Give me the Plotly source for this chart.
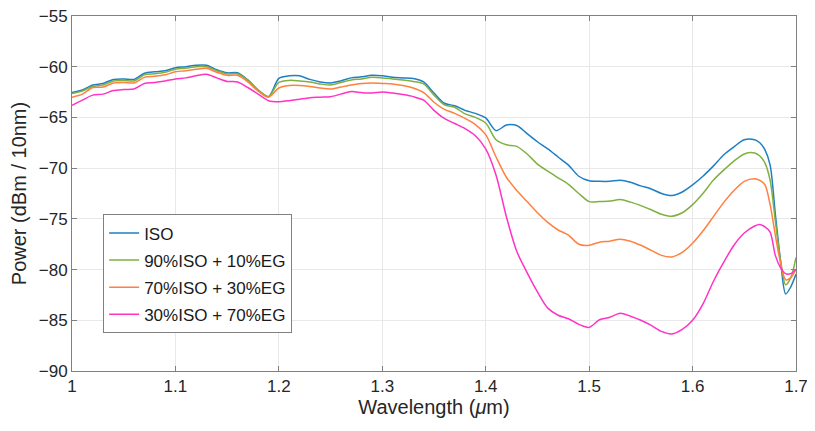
import plotly.graph_objects as go

wavelength = [1.00, 1.01, 1.02, 1.03, 1.04, 1.05, 1.06, 1.07, 1.08, 1.09,
              1.10, 1.11, 1.12, 1.13, 1.14, 1.15, 1.16, 1.17, 1.18, 1.19,
              1.20, 1.21, 1.22, 1.23, 1.24, 1.25, 1.26, 1.27, 1.28, 1.29,
              1.30, 1.31, 1.32, 1.33, 1.34, 1.35, 1.36, 1.37, 1.38, 1.39,
              1.40, 1.41, 1.42, 1.43, 1.44, 1.45, 1.46, 1.47, 1.48, 1.49,
              1.50, 1.51, 1.52, 1.53, 1.54, 1.55, 1.56, 1.57, 1.58, 1.59,
              1.60, 1.61, 1.62, 1.63, 1.64, 1.65, 1.66, 1.665, 1.67, 1.675,
              1.68, 1.685, 1.69, 1.695, 1.70]

iso = [-62.55, -62.3, -61.8, -61.65, -61.25, -61.2, -61.25, -60.65, -60.5, -60.4,
       -60.1, -60.0, -59.85, -59.85, -60.3, -60.6, -60.6, -61.3, -62.3, -62.95,
       -61.15, -60.9, -60.9, -61.25, -61.5, -61.6, -61.4, -61.1, -61.0, -60.85,
       -60.9, -61.05, -61.1, -61.15, -61.5, -62.6, -63.6, -63.85, -64.3, -64.6,
       -65.05, -66.3, -65.75, -65.8, -66.6, -67.4, -68.1, -68.9, -69.7, -70.8,
       -71.25, -71.3, -71.3, -71.2, -71.4, -71.75, -72.05, -72.5, -72.7, -72.35,
       -71.65, -70.8, -69.8, -68.7, -67.9, -67.2, -67.2, -67.5, -68.2, -69.7,
       -74.5, -79.1, -82.4, -81.7, -80.45]

iso90 = [-62.65, -62.4, -61.95, -61.8, -61.4, -61.35, -61.4, -60.8, -60.7, -60.55,
         -60.25, -60.15, -60.0, -60.0, -60.4, -60.7, -60.7, -61.35, -62.3, -62.95,
         -61.55, -61.35, -61.4, -61.5, -61.7, -61.8, -61.55, -61.3, -61.2, -61.05,
         -61.1, -61.2, -61.3, -61.45, -61.7, -62.8, -63.75, -64.0, -64.65, -65.0,
         -65.55, -67.2, -67.7, -67.85, -68.6, -69.6, -70.3, -70.95, -71.6, -72.5,
         -73.3, -73.3, -73.25, -73.1, -73.35, -73.7, -74.1, -74.55, -74.75, -74.4,
         -73.6, -72.5, -71.2, -70.2, -69.3, -68.6, -68.5, -68.8, -69.5, -71.2,
         -75.2, -79.1, -81.5, -80.8, -78.8]

iso70 = [-63.0, -62.7, -62.05, -62.0, -61.6, -61.55, -61.6, -61.05, -60.95, -60.8,
         -60.5, -60.4, -60.25, -60.15, -60.55, -60.85, -60.85, -61.5, -62.4, -63.0,
         -62.1, -61.85, -61.85, -61.95, -62.1, -62.2, -62.0, -61.8, -61.65, -61.6,
         -61.65, -61.7, -61.85, -62.1, -62.55, -63.5, -64.2, -64.6, -65.1, -65.7,
         -66.7, -68.9, -70.9, -72.2, -73.3, -74.4, -75.35, -76.1, -76.6, -77.5,
         -77.6, -77.3, -77.2, -77.0, -77.2, -77.6, -78.1, -78.6, -78.75, -78.3,
         -77.4, -76.2, -74.8, -73.4, -72.2, -71.3, -71.05, -71.2, -71.65, -73.6,
         -76.6, -79.3, -81.0, -80.8, -79.96]

iso30 = [-63.8, -63.3, -62.8, -62.7, -62.35, -62.25, -62.2, -61.65, -61.55, -61.4,
         -61.2, -61.1, -60.9, -60.75, -61.1, -61.45, -61.5, -62.05, -62.7, -63.35,
         -63.45, -63.35, -63.2, -63.05, -63.0, -62.95, -62.7, -62.45, -62.55, -62.6,
         -62.5, -62.6, -62.75, -62.95, -63.3, -64.3, -65.1, -65.6, -66.1, -66.8,
         -68.1, -70.7, -74.8, -78.2, -80.3, -82.2, -83.8, -84.5, -84.85, -85.4,
         -85.7, -84.95, -84.7, -84.3, -84.6, -85.0, -85.5, -86.1, -86.35, -85.9,
         -85.0, -83.4, -81.2, -79.3, -77.6, -76.4, -75.7, -75.55, -75.8, -76.3,
         -78.6, -79.8, -80.4, -80.4, -80.0]

series_names = ["ISO", "90%ISO + 10%EG", "70%ISO + 30%EG", "30%ISO + 70%EG"]
series_values = [iso, iso90, iso70, iso30]
colors = ["#1f7fc4", "#7fb040", "#ff8040", "#ff33c4"]

x_ticks = [1, 1.1, 1.2, 1.3, 1.4, 1.5, 1.6, 1.7]
x_tick_labels = ["1", "1.1", "1.2", "1.3", "1.4", "1.5", "1.6", "1.7"]
y_ticks = [-90, -85, -80, -75, -70, -65, -60, -55]

fig = go.Figure()
for i, (name, vals, col) in enumerate(zip(series_names, series_values, colors)):
    fig.add_trace(go.Scatter(x=wavelength, y=vals, name=name, mode="lines",
                             legendgroup=f"g{i}",
                             line=dict(color=col, width=1.5, shape="spline", smoothing=0.8)))

font_family = "Liberation Sans, Arial, sans-serif"
axis_common = dict(
    showline=True, linecolor="#808080", linewidth=1, mirror="ticks",
    ticks="inside", ticklen=5, tickcolor="#808080",
    showgrid=True, gridcolor="#e8e8e8", gridwidth=1, zeroline=False,
    ticklabeloverflow="allow",
    tickfont=dict(family=font_family, size=17, color="#262626"),
)
# page body has an 8px default margin, so the figure is sized to fit the window
fig.update_layout(
    width=807, height=423,
    margin=dict(l=64, r=17, t=7, b=60),
    paper_bgcolor="white", plot_bgcolor="white",
    font=dict(family=font_family, color="#262626"),
    xaxis=dict(range=[1, 1.7], tickvals=x_ticks, ticktext=x_tick_labels,
               title=dict(text="Wavelength (<i>μ</i>m)", font=dict(size=20), standoff=2),
               **axis_common),
    yaxis=dict(range=[-90.001, -54.999], tickvals=y_ticks, automargin=False,
               title=dict(text="Power (dBm / 10nm)", font=dict(size=20)),
               **axis_common),
    legend=dict(x=0.043, y=0.441, xanchor="left", yanchor="top",
                bgcolor="white", bordercolor="#808080", borderwidth=1,
                font=dict(family=font_family, size=17, color="#1a1a1a"),
                tracegroupgap=2, itemwidth=30),
    showlegend=True,
)
fig.write_html("out.html")
